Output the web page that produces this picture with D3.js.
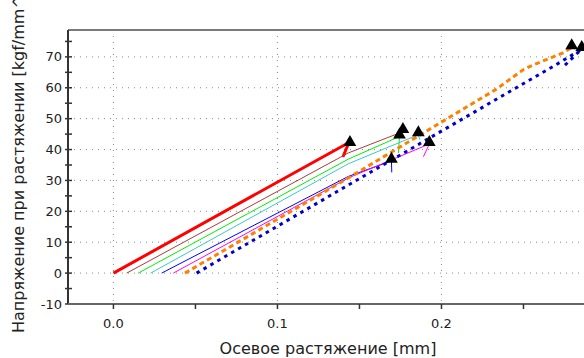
<!DOCTYPE html>
<html>
<head>
<meta charset="utf-8">
<script src="https://cdn.jsdelivr.net/npm/d3@7"></script>
<style>
  body { margin: 0; background: #fff; }
  svg { display: block; font-family: "DejaVu Sans", sans-serif; }
  .grid line { stroke: #8a8a8a; stroke-width: 1; stroke-dasharray: 1, 5; }
</style>
</head>
<body>
<svg width="584" height="358"></svg>
<script>
// curves: [strain mm, stress kgf/mm^2]
const red = [[0, 0], [0.1436, 42.3], [0.1399, 37.6]];
const brown = [[0.0081, 0], [0.1432, 38.9], [0.1765, 45.8]];
const green = [[0.0151, 0], [0.1432, 36.9], [0.1744, 44.2], [0.1738, 38.9]];
const cyan = [[0.0227, 0], [0.1432, 35.4], [0.1859, 44.8], [0.1868, 43.2]];
const blueThin = [[0.0294, 0], [0.1432, 31.3], [0.1695, 36.3], [0.1697, 32.6]];
const magenta = [[0.0365, 0], [0.1432, 30.8], [0.1926, 41.8], [0.1890, 37.7]];
const orange = [[0.0436, 0], [0.1432, 30.8], [0.2330, 59.4], [0.2497, 65.8], [0.2560, 67.4], [0.2741, 71.3], [0.2794, 73.0]];
const blueDash = [[0.0507, 0], [0.1432, 28.5], [0.2700, 67.5], [0.2852, 72.4], [0.2733, 66.3]];

// break points (triangles)
const breaks = [[0.1442, 42.0], [0.1765, 46.2], [0.1744, 44.4], [0.1859, 45.2],
  [0.1695, 36.6], [0.1926, 42.0], [0.2794, 73.3], [0.2855, 72.8]];

const series = [
  { data: red, color: "#ff0000", width: 3, dash: null },
  { data: brown, color: "#b03a3a", width: 1, dash: null },
  { data: green, color: "#00ee00", width: 1, dash: null },
  { data: cyan, color: "#3cc8c8", width: 1, dash: null },
  { data: blueThin, color: "#0000ff", width: 1, dash: null },
  { data: magenta, color: "#ff00ff", width: 1, dash: null },
  { data: orange, color: "#ff8000", width: 3, dash: "5,3.5" },
  { data: blueDash, color: "#0000cc", width: 3, dash: "3.5,4.5" },
];

const xTicks = [0, 0.1, 0.2];
const xMinor = [0.05, 0.15, 0.25];
const yTicks = [-10, 0, 10, 20, 30, 40, 50, 60, 70];
const yMinor = [-5, 5, 15, 25, 35, 45, 55, 65, 75];

const svg = d3.select("svg");
const pl = 68, pr = 584, pt = 30, pb = 304;

const x = d3.scaleLinear().domain([-0.0277, 0.2869]).range([pl, pr]);
const y = d3.scaleLinear().domain([-10, 78.7]).range([pb, pt]);

svg.append("defs").append("clipPath").attr("id", "clip")
  .append("rect").attr("x", pl).attr("y", pt).attr("width", pr - pl).attr("height", pb - pt);

// grid
const grid = svg.append("g").attr("class", "grid");
grid.selectAll("line.gx").data(xTicks).enter().append("line")
  .attr("x1", (d) => x(d)).attr("x2", (d) => x(d))
  .attr("y1", pt).attr("y2", pb);
grid.selectAll("line.gy").data(yTicks.slice(1)).enter().append("line")
  .attr("x1", pl).attr("x2", pr)
  .attr("y1", (d) => y(d)).attr("y2", (d) => y(d));

// frame
svg.append("line").attr("x1", pl).attr("x2", pr).attr("y1", pt).attr("y2", pt)
  .attr("stroke", "#7a7a7a").attr("stroke-width", 2);

const line = d3.line().x((d) => x(d[0])).y((d) => y(d[1]));

const plot = svg.append("g").attr("clip-path", "url(#clip)");
plot.selectAll("path.curve").data(series).enter().append("path")
  .attr("class", "curve")
  .attr("d", (d) => line(d.data))
  .attr("fill", "none")
  .attr("stroke", (d) => d.color)
  .attr("stroke-width", (d) => d.width)
  .attr("stroke-dasharray", (d) => d.dash)
  .attr("stroke-linejoin", "round");

svg.selectAll("path.brk").data(breaks).enter().append("path")
  .attr("class", "brk")
  .attr("d", d3.symbol(d3.symbolTriangle, 70))
  .attr("transform", (d) => `translate(${x(d[0])},${y(d[1]) - 1})`)
  .attr("fill", "#000");

// axes
const yAxis = svg.append("g");
yAxis.append("line").attr("x1", pl).attr("x2", pl).attr("y1", pt).attr("y2", pb)
  .attr("stroke", "#333").attr("stroke-width", 2);
yAxis.selectAll("line.t").data(yTicks.concat(yMinor)).enter().append("line")
  .attr("x1", pl - 3).attr("x2", pl + 4)
  .attr("y1", (d) => y(d)).attr("y2", (d) => y(d))
  .attr("stroke", "#333").attr("stroke-width", 1.5);
yAxis.selectAll("text").data(yTicks).enter().append("text")
  .attr("x", pl - 6).attr("y", (d) => y(d)).attr("dy", "0.35em")
  .attr("text-anchor", "end").attr("font-size", 13).attr("fill", "#222")
  .text((d) => d);

const xAxis = svg.append("g");
xAxis.append("line").attr("x1", pl).attr("x2", pr).attr("y1", pb).attr("y2", pb)
  .attr("stroke", "#666").attr("stroke-width", 2);
xAxis.selectAll("line.t").data(xTicks.concat(xMinor)).enter().append("line")
  .attr("x1", (d) => x(d)).attr("x2", (d) => x(d))
  .attr("y1", pb).attr("y2", pb + 5)
  .attr("stroke", "#333").attr("stroke-width", 1.5);
xAxis.selectAll("text").data(xTicks).enter().append("text")
  .attr("x", (d) => x(d)).attr("y", pb + 24)
  .attr("text-anchor", "middle").attr("font-size", 13).attr("fill", "#222")
  .text((d) => d.toFixed(1));

svg.append("text")
  .attr("x", 328).attr("y", 354)
  .attr("text-anchor", "middle").attr("font-size", 16).attr("fill", "#222")
  .text("Осевое растяжение [mm]");

svg.append("text")
  .attr("transform", "translate(24,333) rotate(-90)")
  .attr("text-anchor", "start").attr("font-size", 16).attr("fill", "#222")
  .text("Напряжение при растяжении [kgf/mm^2]");
</script>
</body>
</html>
